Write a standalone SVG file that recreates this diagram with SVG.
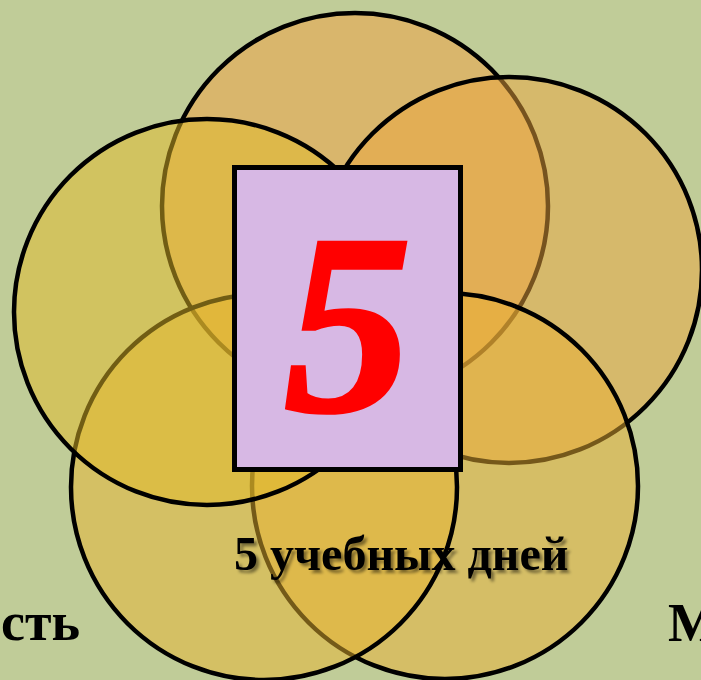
<svg xmlns="http://www.w3.org/2000/svg" width="701" height="680" viewBox="0 0 701 680">
<style>
.c{stroke:#000;stroke-width:4.5;fill-opacity:0.5}
.side{font-family:"Liberation Serif","Times New Roman",serif;font-weight:bold;font-size:54px;fill:#000}
</style>
<defs>
<filter id="sh" x="-10%" y="-30%" width="120%" height="160%">
<feDropShadow dx="3" dy="3" stdDeviation="1.5" flood-color="#000" flood-opacity="0.45"/>
</filter>
</defs>
<rect width="701" height="680" fill="#c0cc98"/>
<g id="circles">
<g id="circle-top"><circle class="c" cx="355" cy="206" r="193" fill="rgb(242,160,64)"/></g>
<g id="circle-right"><circle class="c" cx="509" cy="270" r="193" fill="rgb(236,166,62)"/></g>
<g id="circle-bottom-right"><circle class="c" cx="445" cy="486" r="193" fill="rgb(234,176,52)"/></g>
<g id="circle-bottom-left"><circle class="c" cx="264" cy="487" r="193" fill="rgb(232,180,48)"/></g>
<g id="circle-left"><circle class="c" cx="207" cy="312" r="193" fill="rgb(226,186,40)"/></g>
</g>
<g id="center">
<rect x="234.5" y="167.5" width="226" height="302" fill="#d7b8e4" stroke="#000" stroke-width="5"/>
<text x="348" y="411" text-anchor="middle" font-family="'Liberation Serif','Times New Roman',serif" font-weight="bold" font-style="italic" font-size="256" fill="#ff0000" stroke="#ff0000" stroke-width="3.5">5</text>
</g>
<g id="caption">
<text x="234" y="570" font-family="'Liberation Serif','Times New Roman',serif" font-weight="bold" font-size="48" fill="#000" filter="url(#sh)">5 учебных дней</text>
</g>
<g id="side-labels">
<text class="side" x="80" y="640" text-anchor="end">ость</text>
<text class="side" x="668" y="641">М</text>
</g>
</svg>
